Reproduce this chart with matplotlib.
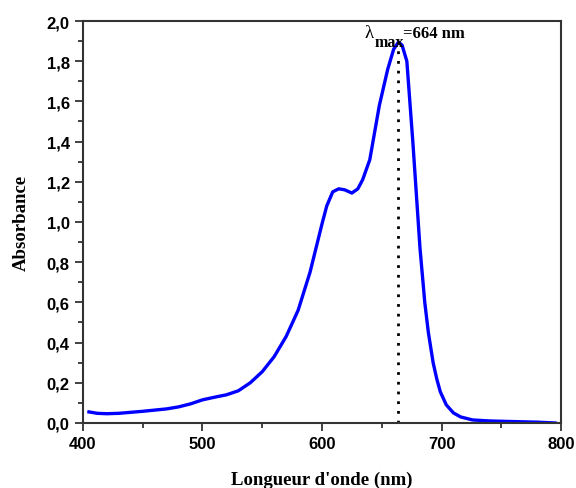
import matplotlib
matplotlib.use('Agg')
import matplotlib.pyplot as plt
from matplotlib.ticker import MultipleLocator, FuncFormatter
import numpy as np

# absorption spectrum
wavelength = [405, 412, 420, 430, 440, 450, 460, 470, 480, 490, 500, 510, 520, 530,
              540, 550, 560, 570, 580, 590, 595, 600, 604, 609, 614, 619, 625, 630,
              634, 640, 648, 655, 660, 664, 667, 671, 676, 682, 686, 689, 693, 696,
              699, 704, 710, 716, 726, 740, 760, 780, 795]
absorbance = [0.055, 0.048, 0.046, 0.048, 0.053, 0.058, 0.064, 0.07, 0.08, 0.095, 0.115, 0.128,
              0.14, 0.16, 0.2, 0.255, 0.33, 0.43, 0.56, 0.75, 0.87, 0.99, 1.08, 1.15,
              1.165, 1.16, 1.144, 1.165, 1.21, 1.31, 1.58, 1.76, 1.86, 1.895, 1.88, 1.8,
              1.4, 0.87, 0.6, 0.45, 0.3, 0.22, 0.155, 0.09, 0.05, 0.03, 0.015,
              0.01, 0.007, 0.004, 0.0]
lambda_max = 664
peak_abs = 1.895

plt.rcParams['font.family'] = 'Liberation Sans'

fig = plt.figure(figsize=(5.76, 4.89), dpi=100)
ax = fig.add_axes([0.144, 0.133, 0.830, 0.822])

ax.plot(wavelength, absorbance, color='#0000ff', lw=2.4)
ax.plot([lambda_max, lambda_max], [0, peak_abs], color='black', ls=(0, (1, 2.5)), lw=2)

# label lambda_max built from pieces so the subscript stays large
serif = dict(family='Liberation Serif', ha='left', va='baseline', textcoords='offset points')
ax.annotate('λ', (lambda_max, peak_abs), xytext=(-24.5, 3.6), fontsize=13.5, **serif)
ax.annotate('max', (lambda_max, peak_abs), xytext=(-17.3, -2.9), fontsize=11.5, fontweight='bold', **serif)
ax.annotate('=664 nm', (lambda_max, peak_abs), xytext=(2.9, 3.6), fontsize=12, fontweight='bold', **serif)

ax.set_xlim(400, 800)
ax.set_ylim(0, 2.0)
ax.xaxis.set_major_locator(MultipleLocator(100))
ax.xaxis.set_minor_locator(MultipleLocator(50))
ax.yaxis.set_major_locator(MultipleLocator(0.2))
ax.yaxis.set_minor_locator(MultipleLocator(0.1))
ax.yaxis.set_major_formatter(FuncFormatter(lambda v, p: '{:.1f}'.format(v).replace('.', ',')))

ax.tick_params(which='both', direction='out', width=1.3, color='#333333')
ax.tick_params(which='major', length=6, labelsize=12)
ax.tick_params(which='minor', length=3.5)
for lab in ax.get_xticklabels() + ax.get_yticklabels():
    lab.set_fontweight('bold')
for s in ax.spines.values():
    s.set_linewidth(1.5)
    s.set_color('#333333')

ax.set_xlabel("Longueur d'onde (nm)", family='Liberation Serif', fontweight='bold', fontsize=13.5, labelpad=14)
ax.set_ylabel('Absorbance', family='Liberation Serif', fontweight='bold', fontsize=13.5, labelpad=12)

fig.savefig('out.png', dpi=100)
